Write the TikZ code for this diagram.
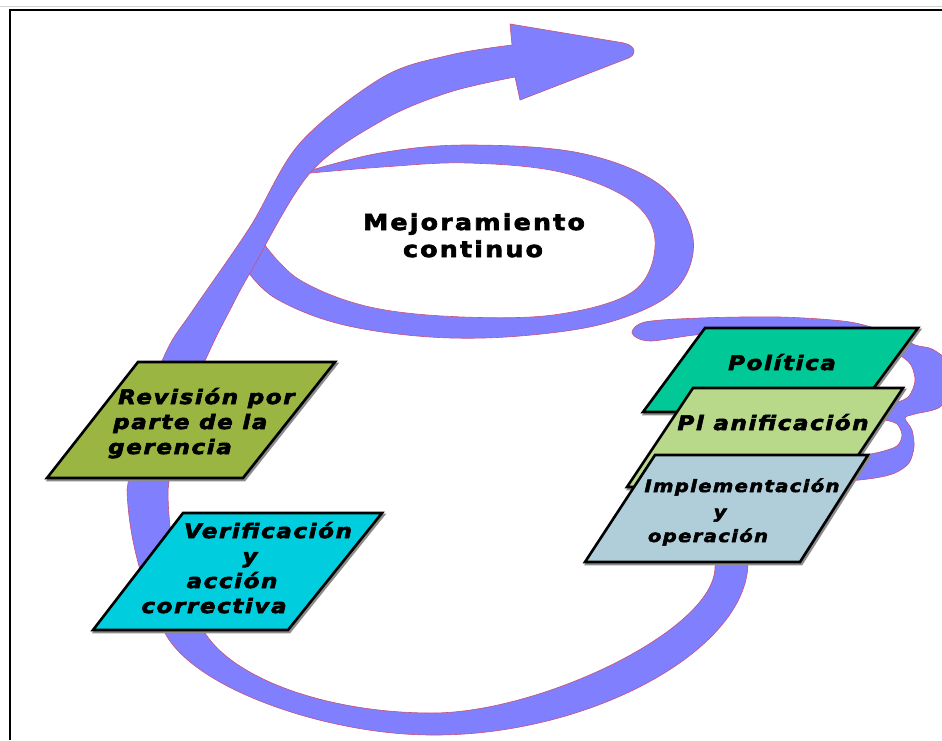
\documentclass[tikz,border=0pt]{standalone}
\usepackage{fontspec}
\setmainfont{DejaVu Sans}
\newfontfamily\boxfont{DejaVu Sans}[LetterSpace=8, BoldItalicFeatures={FakeBold=3, FakeStretch=1.15}]
\newfontfamily\ellfont{DejaVu Sans}[LetterSpace=10, BoldFeatures={FakeBold=3, FakeStretch=1.15}]
\definecolor{band}{RGB}{128,128,255}
\definecolor{bandline}{RGB}{200,80,120}
\definecolor{revcol}{RGB}{155,181,66}
\definecolor{vercol}{RGB}{0,206,222}
\definecolor{polcol}{RGB}{0,200,150}
\definecolor{placol}{RGB}{184,217,138}
\definecolor{impcol}{RGB}{175,206,218}
\tikzset{
  bandfill/.style={fill=band, draw=bandline, line width=0.6pt},
  pbox/.style={draw=black, line width=2.6pt, line join=miter},
  pshadow/.style={draw=black!45, line width=2.6pt, line join=miter, shift={(1.5,2)}},
  lbl/.style={font=\boxfont\bfseries\itshape\fontsize{20}{22}\selectfont, inner sep=0pt, anchor=base},
  lblsmall/.style={lbl, font=\boxfont\bfseries\itshape\fontsize{17}{20}\selectfont},
  ellt/.style={font=\ellfont\bfseries\fontsize{22}{24}\selectfont, inner sep=0pt, anchor=base},
}
\begin{document}
\begin{tikzpicture}[x=1pt,y=-1pt]
\useasboundingbox (0,0) rectangle (942,740);
\fill[white] (0,0) rectangle (942,740);
% frame
\draw[gray!35, line width=1.5pt] (0,6.5) -- (942,6.5);
\draw[black, line width=2pt] (10,740) -- (10,9.5) -- (942,9.5);

% B-shaped band on the right
\filldraw[bandfill] plot[smooth cycle, tension=0.5] coordinates {(632,333) (645,322) (700,318) (780,317) (850,322) (895,335) (915,345) (932,349) (948,362) (952,385) (940,407) (915,414) (905,418) (912,430) (914,447) (909,463) (895,473) (875,478) (845,481) (825,478) (835,462) (860,456) (880,452) (897,446) (902,435) (897,424) (885,420) (870,418) (870,405) (897,402) (909,396) (915,381) (911,365) (899,355) (880,350) (860,345) (800,340) (710,334) (650,341)};

% ring around the ellipse
\filldraw[bandfill] plot[smooth, tension=0.6] coordinates {(305,172) (380,153) (467,145) (580,153) (660,185) (693,238) (675,290) (610,322) (520,336) (430,337) (340,324) (275,298) (245,268)} -- (255,245) -- (280,200) -- cycle;
\filldraw[fill=white, draw=bandline, line width=0.6pt] plot[smooth, tension=0.6] coordinates {(300,174) (383,167) (467,163) (560,172) (630,200) (655,240) (635,290) (560,314) (464,317) (370,307) (300,280) (265,245)} -- cycle;

% main spiral band with arrow head
\filldraw[bandfill] (752,545) -- (748,563)
  .. controls (747,650) and (590,736) .. (432,735)
  .. controls (330,735) and (195,690) .. (165,633)
  .. controls (150,605) and (129,550) .. (127,490)
  -- plot[smooth, tension=0.55] coordinates {(127,490) (140,420) (167,350) (193,310) (250,227) (300,143) (383,77) (450,55) (512,45)}
  -- (510,24) -- (624,43) .. controls (637,46) and (637,56) .. (626,59) -- (520,100) -- (515,77)
  -- plot[smooth, tension=0.55] coordinates {(515,77) (450,92) (383,120) (310,173) (250,273) (230,310) (210,350) (180,420) (168,490)}
  .. controls (168,550) and (185,605) .. (205,633)
  .. controls (235,680) and (330,713) .. (432,713)
  .. controls (540,713) and (715,630) .. (715,567)
  -- (718,545) -- cycle;

% boxes (with a light drop shadow)
\draw[pshadow] (138,362) -- (335,362) -- (243,478) -- (47,478) -- cycle;
\filldraw[pbox, fill=revcol] (138,362) -- (335,362) -- (243,478) -- (47,478) -- cycle;
\draw[pshadow] (183,513) -- (382,513) -- (288,630) -- (93,630) -- cycle;
\filldraw[pbox, fill=vercol] (183,513) -- (382,513) -- (288,630) -- (93,630) -- cycle;
\draw[pshadow] (705,328) -- (918,328) -- (856,412) -- (643,412) -- cycle;
\filldraw[pbox, fill=polcol] (705,328) -- (918,328) -- (856,412) -- (643,412) -- cycle;
\draw[pshadow] (693,388) -- (903,388) -- (837,487) -- (627,487) -- cycle;
\filldraw[pbox, fill=placol] (693,388) -- (903,388) -- (837,487) -- (627,487) -- cycle;
\draw[pshadow] (655,455) -- (868,455) -- (800,562) -- (585,562) -- cycle;
\filldraw[pbox, fill=impcol] (655,455) -- (868,455) -- (800,562) -- (585,562) -- cycle;

% labels
\node[ellt] (mej1) at (474,230) {Mejoramiento};
\node[ellt] (mej2) at (473,257) {continuo};

\node[lbl, anchor=base west] (rev1) at (118,404) {Revisión por};
\node[lbl, anchor=base west] (rev2) at (113,429) {parte de la};
\node[lbl, anchor=base west] (rev3) at (108,454) {gerencia};

\node[lbl] (ver1) at (268,538) {Verificación};
\node[lbl] (ver2) at (250,563) {y};
\node[lbl] (ver3) at (232,588) {acción};
\node[lbl] (ver4) at (214,613) {correctiva};

\node[lbl] (pol) at (782,370) {Política};
\node[lbl] (pla) at (773,430) {Pl anificación};

\node[lblsmall] (imp1) at (742,492) {Implementación};
\node[lblsmall] (imp2) at (720,518) {y};
\node[lblsmall] (imp3) at (708,542) {operación};
\end{tikzpicture}
\end{document}
